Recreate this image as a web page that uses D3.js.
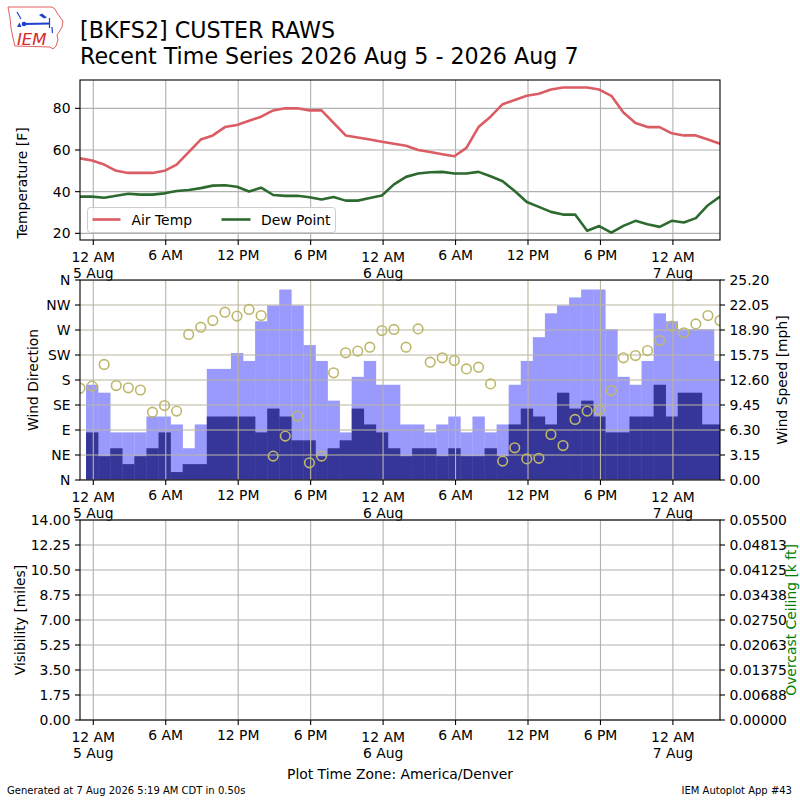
<!DOCTYPE html>
<html><head><meta charset="utf-8">
<script src="https://cdn.jsdelivr.net/npm/d3@7"></script>
<style>
body{margin:0;background:#fff}
svg{display:block}
text{font-family:"DejaVu Sans",sans-serif;fill:#000}
</style>
</head><body>
<svg id="c" width="800" height="800"></svg>
<script>
// ---------------- DATA ----------------
const obsStart = new Date(2026, 7, 4, 22, 54);   // first hourly observation
const obsCount = 54;
const airTemp = [56,55,53,50,49,49,49,50,53,59,65,67,71,72,74,76,79,80,80,79,79,73,67,66,65,64,63,62,60,59,58,57,61,71,76,82,84,86,87,89,90,90,90,89,86,78,73,71,71,68,67,67,65,63];
const dewPoint = [37.6,37.6,37.1,38,39,38.6,38.6,39.2,40.3,40.8,41.7,42.9,43.1,42.4,40.1,41.9,38.4,38,38,37.3,36.2,37.4,35.7,35.7,37,38.2,43.5,47.1,48.7,49.3,49.5,48.7,48.7,49.5,47.4,45,40.3,35,32.7,30.3,29,29,21.2,23.5,20.3,23.6,26,24.4,23.1,26,25.2,27.3,33.5,37.6];
const windDir = [165,169,208,170,166,162,122,134,124,262,275,287,302,295,307,296,43,79,115,31,43,193,229,232,239,269,271,239,272,212,220,215,200,203,173,34,58,38,39,82,62,109,124,126,161,220,224,233,251,277,265,281,296,287];
const windGust = [null,12,11,6,6,6,8,8,7,4,7,14,14,16,15,20,22,24,22,17,15,10,6,13,15,12,12,7,7,6,7,8,6,8,6,7,12,15,18,21,22,23,24,24,19,13,12,15,21,20,19,19,19,15];
const windSpeed = [null,6,3,4,2,3,4,6,1,2,2,8,8,8,8,6,9,8,5,5,3,4,5,9,7,6,4,3,4,4,3,4,3,3,4,3,7,9,8,7,11,9,10,8,6,6,8,8,12,8,11,11,7,7];

const xTickTimes = [new Date(2026,7,5,0),new Date(2026,7,5,6),new Date(2026,7,5,12),new Date(2026,7,5,18),
                    new Date(2026,7,6,0),new Date(2026,7,6,6),new Date(2026,7,6,12),new Date(2026,7,6,18),new Date(2026,7,7,0)];
const xTickLabels = [["12 AM","5 Aug"],["6 AM"],["12 PM"],["6 PM"],["12 AM","6 Aug"],["6 AM"],["12 PM"],["6 PM"],["12 AM","7 Aug"]];
const tempTicks = [20,40,60,80];
const dirTicks = [0,45,90,135,180,225,270,315,360];
const dirLabels = ["N","NE","E","SE","S","SW","W","NW","N"];
const speedTicks = [0,3.15,6.3,9.45,12.6,15.75,18.9,22.05,25.2];
const speedLabels = ["0.00","3.15","6.30","9.45","12.60","15.75","18.90","22.05","25.20"];
const visTicks = [0,1.75,3.5,5.25,7,8.75,10.5,12.25,14];
const visLabels = ["0.00","1.75","3.50","5.25","7.00","8.75","10.50","12.25","14.00"];
const ceilTicks = [0,0.006875,0.01375,0.020625,0.0275,0.034375,0.04125,0.048125,0.055];
const ceilLabels = ["0.00000","0.00688","0.01375","0.02063","0.02750","0.03438","0.04125","0.04813","0.05500"];

const times = d3.range(obsCount).map(k => d3.timeHour.offset(obsStart, k));

// ---------------- LAYOUT ----------------
const svg = d3.select("#c");
svg.append("rect").attr("width",800).attr("height",800).attr("fill","#fff");
const L = 80, R = 720;
const FS = 13.9;
const x = d3.scaleTime().domain([times[0], times[obsCount-1]]).range([L, R]);

const P = {temp:[80,240], wind:[280,480], vis:[520,720]};

const defs = svg.append("defs");
Object.entries(P).forEach(([k,[t,b]]) => {
  defs.append("clipPath").attr("id","clip-"+k).append("rect")
    .attr("x",L).attr("y",t).attr("width",R-L).attr("height",b-t);
});

function vgrid(g, top, bot, color) {
  g.selectAll(null).data(xTickTimes).enter().append("line")
    .attr("x1",d=>x(d)).attr("x2",d=>x(d)).attr("y1",top).attr("y2",bot)
    .attr("stroke",color).attr("stroke-width",1.1);
}
function hgrid(g, ys, color) {
  g.selectAll(null).data(ys).enter().append("line")
    .attr("x1",L).attr("x2",R).attr("y1",d=>d).attr("y2",d=>d)
    .attr("stroke",color).attr("stroke-width",1.1);
}
function xAxis(bot) {
  const g = svg.append("g");
  xTickTimes.forEach((t,i) => {
    const px = x(t);
    g.append("line").attr("x1",px).attr("x2",px).attr("y1",bot).attr("y2",bot+5)
      .attr("stroke","#000").attr("stroke-width",1.1);
    const lab = xTickLabels[i];
    const tx = g.append("text").attr("text-anchor","middle").attr("font-size",FS);
    if (lab.length === 1) {
      tx.append("tspan").attr("x",px).attr("y",bot+20).text(lab[0]);
    } else {
      tx.append("tspan").attr("x",px).attr("y",bot+22.3).text(lab[0]);
      tx.append("tspan").attr("x",px).attr("y",bot+38.3).text(lab[1]);
    }
  });
}
function yAxisLeft(scale, ticks, labels) {
  const g = svg.append("g");
  ticks.forEach((v,i) => {
    const py = scale(v);
    g.append("line").attr("x1",L-5).attr("x2",L).attr("y1",py).attr("y2",py)
      .attr("stroke","#000").attr("stroke-width",1.1);
    g.append("text").attr("x",L-9.5).attr("y",py).attr("dy","0.36em")
      .attr("text-anchor","end").attr("font-size",FS).text(labels[i]);
  });
}
function yAxisRight(scale, ticks, labels) {
  const g = svg.append("g");
  ticks.forEach((v,i) => {
    const py = scale(v);
    g.append("line").attr("x1",R).attr("x2",R+5).attr("y1",py).attr("y2",py)
      .attr("stroke","#000").attr("stroke-width",1.1);
    g.append("text").attr("x",R+9.5).attr("y",py).attr("dy","0.36em")
      .attr("text-anchor","start").attr("font-size",FS).text(labels[i]);
  });
}
function frame(top, bot) {
  svg.append("rect").attr("x",L).attr("y",top).attr("width",R-L).attr("height",bot-top)
    .attr("fill","none").attr("stroke","#000").attr("stroke-width",1.1);
}
function vlabel(txt, cx, cy, color) {
  svg.append("text").attr("transform",`translate(${cx},${cy}) rotate(-90)`)
    .attr("text-anchor","middle").attr("dy","0.36em").attr("font-size",FS)
    .style("fill",color||"#000").text(txt);
}

// ---------------- TEMPERATURE PANEL ----------------
const yT = d3.scaleLinear().domain([16.8, 93.6]).range([P.temp[1], P.temp[0]]);
{
  const g = svg.append("g");
  vgrid(g, P.temp[0], P.temp[1], "#b0b0b0");
  hgrid(g, tempTicks.map(yT), "#b0b0b0");
  const lg = svg.append("g").attr("clip-path","url(#clip-temp)");
  const line = d3.line().x((d,i)=>x(times[i])).y(d=>yT(d));
  lg.append("path").attr("d",line(airTemp)).attr("fill","none")
    .attr("stroke","#dc5c63").attr("stroke-width",2.6).attr("stroke-linejoin","round");
  lg.append("path").attr("d",line(dewPoint)).attr("fill","none")
    .attr("stroke","#2d6a2f").attr("stroke-width",2.6).attr("stroke-linejoin","round");
  frame(P.temp[0], P.temp[1]);
  yAxisLeft(yT, tempTicks, tempTicks.map(String));
  xAxis(P.temp[1]);
  vlabel("Temperature [F]", 22, 183);
  // legend
  const leg = svg.append("g");
  leg.append("rect").attr("x",87.5).attr("y",207.5).attr("width",248).attr("height",25).attr("rx",3)
    .attr("fill","#fff").attr("fill-opacity",0.8).attr("stroke","#cccccc").attr("stroke-width",1);
  leg.append("line").attr("x1",92.5).attr("x2",120.5).attr("y1",219.5).attr("y2",219.5)
    .attr("stroke","#dc5c63").attr("stroke-width",2.6);
  leg.append("text").attr("x",131.5).attr("y",224.5).attr("font-size",FS).text("Air Temp");
  leg.append("line").attr("x1",221.5).attr("x2",250.5).attr("y1",219.5).attr("y2",219.5)
    .attr("stroke","#2d6a2f").attr("stroke-width",2.6);
  leg.append("text").attr("x",261).attr("y",224.5).attr("font-size",FS).text("Dew Point");
}

// ---------------- WIND PANEL ----------------
const yD = d3.scaleLinear().domain([0,360]).range([P.wind[1], P.wind[0]]);
const yS = d3.scaleLinear().domain([0,25.2]).range([P.wind[1], P.wind[0]]);
{
  const g = svg.append("g").attr("clip-path","url(#clip-wind)");
  const half = 30; // minutes
  const barX = i => x(d3.timeMinute.offset(times[i], -half));
  const barW = i => x(d3.timeMinute.offset(times[i], half)) - barX(i);
  const idx = d3.range(obsCount);
  g.selectAll(null).data(idx.filter(i=>windGust[i]!=null)).enter().append("rect")
    .attr("x",barX).attr("width",i=>barW(i)+0.3)
    .attr("y",i=>yS(windGust[i])).attr("height",i=>yS(0)-yS(windGust[i]))
    .attr("fill","#9a9afc");
  g.selectAll(null).data(idx.filter(i=>windSpeed[i]!=null)).enter().append("rect")
    .attr("x",barX).attr("width",i=>barW(i)+0.3)
    .attr("y",i=>yS(windSpeed[i])).attr("height",i=>yS(0)-yS(windSpeed[i]))
    .attr("fill","#363699");
  vgrid(g, P.wind[0], P.wind[1], "#b9b59f");
  hgrid(g, dirTicks.map(yD), "#b9b59f");
  g.selectAll(null).data(idx).enter().append("circle")
    .attr("cx",i=>x(times[i])).attr("cy",i=>yD(windDir[i])).attr("r",4.8)
    .attr("fill","none").attr("stroke","#bdb76b").attr("stroke-width",1.6);
  frame(P.wind[0], P.wind[1]);
  yAxisLeft(yD, dirTicks, dirLabels);
  yAxisRight(yS, speedTicks, speedLabels);
  xAxis(P.wind[1]);
  vlabel("Wind Direction", 33, 380);
  vlabel("Wind Speed [mph]", 782, 380);
}

// ---------------- VISIBILITY PANEL ----------------
const yV = d3.scaleLinear().domain([0,14]).range([P.vis[1], P.vis[0]]);
const yC = d3.scaleLinear().domain([0,0.055]).range([P.vis[1], P.vis[0]]);
{
  const g = svg.append("g");
  vgrid(g, P.vis[0], P.vis[1], "#b0b0b0");
  hgrid(g, visTicks.map(yV), "#b0b0b0");
  frame(P.vis[0], P.vis[1]);
  yAxisLeft(yV, visTicks, visLabels);
  yAxisRight(yC, ceilTicks, ceilLabels);
  xAxis(P.vis[1]);
  vlabel("Visibility [miles]", 20, 620);
  vlabel("Overcast Ceiling [k ft]", 791, 620, "#008000");
}

// ---------------- TITLES / FOOTER ----------------
svg.append("text").attr("x",80).attr("y",37.7).attr("font-size",22.2).text("[BKFS2] CUSTER RAWS");
svg.append("text").attr("x",80).attr("y",64.3).attr("font-size",22.2).text("Recent Time Series 2026 Aug 5 - 2026 Aug 7");
svg.append("text").attr("x",400).attr("y",779).attr("text-anchor","middle").attr("font-size",FS).text("Plot Time Zone: America/Denver");
svg.append("text").attr("x",7).attr("y",794).attr("font-size",10).text("Generated at 7 Aug 2026 5:19 AM CDT in 0.50s");
svg.append("text").attr("x",792).attr("y",794).attr("text-anchor","end").attr("font-size",10).text("IEM Autoplot App #43");

// ---------------- LOGO ----------------
{
  const lg = svg.append("g");
  lg.append("path").attr("d","M8,7 L52,7 L55,9 L57,13 L60,17 L63,21 L62,27 L59,32 L57,35 L58,40 L56,46 L53,49 L50,47 L15,46 L13,38 L11,28 L10,18 Z")
    .attr("fill","none").attr("stroke","#e06060").attr("stroke-width",1);
  const blue = "#1f3fd0";
  lg.append("line").attr("x1",24).attr("y1",24).attr("x2",50).attr("y2",23.5).attr("stroke",blue).attr("stroke-width",2);
  lg.append("circle").attr("cx",24).attr("cy",24).attr("r",2.3).attr("fill",blue);
  lg.append("line").attr("x1",17).attr("y1",12).attr("x2",21).attr("y2",19).attr("stroke",blue).attr("stroke-width",1.2);
  lg.append("path").attr("d","M17,27 L19.5,22.5 L21.5,27 Z").attr("fill",blue);
  lg.append("path").attr("d","M39,15 L42,13.5 L47,17.5 L44,18.5 Z").attr("fill",blue);
  lg.append("line").attr("x1",49.5).attr("y1",18).attr("x2",49.5).attr("y2",28).attr("stroke",blue).attr("stroke-width",1.2);
  lg.append("line").attr("x1",52).attr("y1",27).attr("x2",52.5).attr("y2",33).attr("stroke",blue).attr("stroke-width",1.2);
  lg.append("text").attr("x",17).attr("y",44.5).attr("font-family","Liberation Serif, serif")
    .attr("font-style","italic").attr("font-size",16.5).style("fill","#d42a2a").text("IEM");
}
</script>
</body></html>
